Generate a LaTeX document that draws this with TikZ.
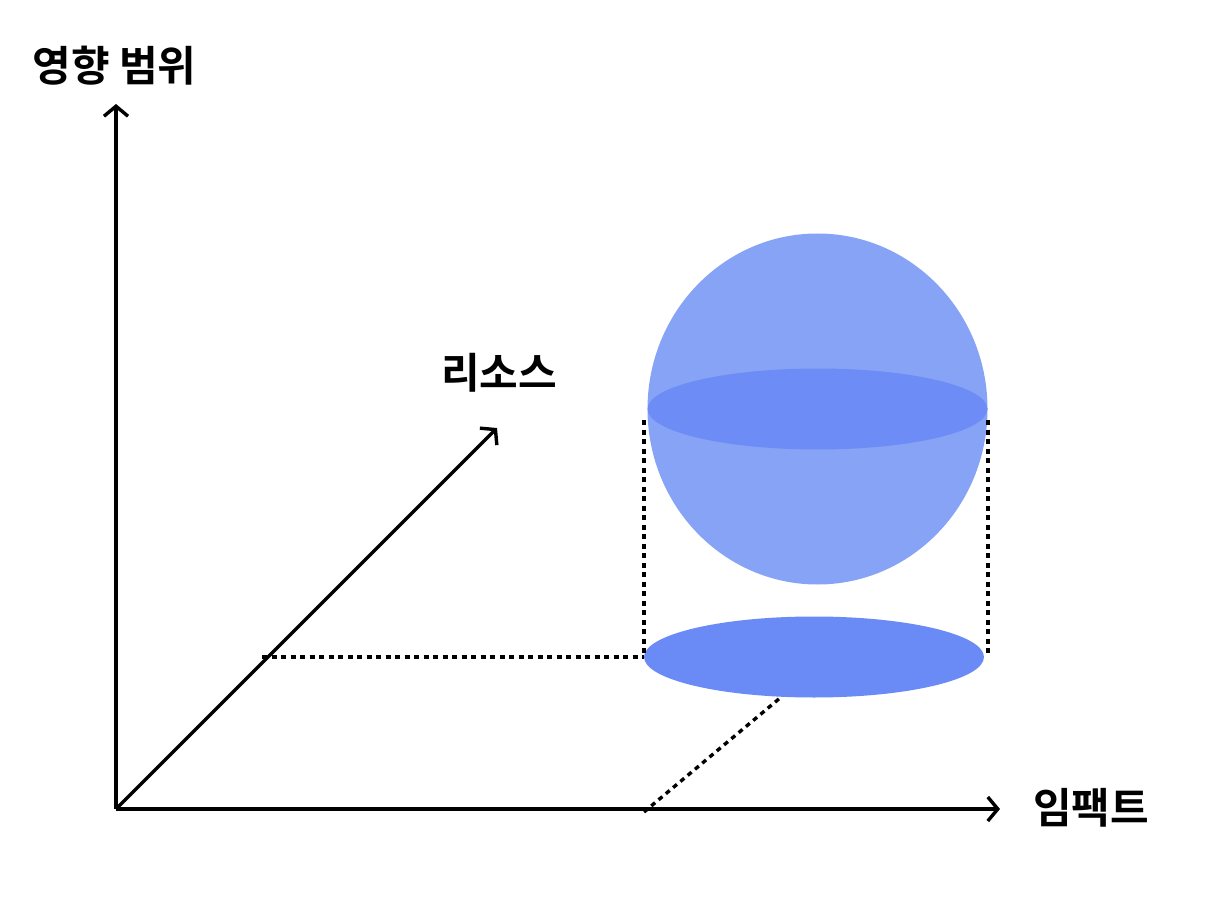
\documentclass[tikz,border=0pt]{standalone}
\usepackage{fontspec}
\newfontfamily\kr{Noto Sans CJK KR}[BoldFont={* Bold}]
\usetikzlibrary{arrows.meta,shapes.geometric}
\definecolor{sph}{HTML}{87A3F6}
\definecolor{eq}{HTML}{6D8CF6}
\definecolor{base}{HTML}{6A8BF6}
\tikzset{
  axis/.style={line width=3.4pt, -{Straight Barb[length=10pt,width=24pt,line width=3.4pt]}},
  guide/.style={line width=3.4pt, dash pattern=on 5pt off 4.5pt},
  lbl/.style={font=\kr\bfseries\fontsize{42}{46}\selectfont, inner sep=0pt}
}
\begin{document}
\begin{tikzpicture}[x=1pt,y=-1pt]
\useasboundingbox (0,0) rectangle (1232,912);
% shapes
\node[ellipse, fill=sph, minimum width=340pt, minimum height=351pt, inner sep=0pt] (sphere) at (817.5,409) {};
\node[ellipse, fill=eq, minimum width=340pt, minimum height=81pt, inner sep=0pt] (equator) at (817.5,409) {};
\node[ellipse, fill=base, minimum width=340pt, minimum height=81pt, inner sep=0pt] (disc) at (814,657) {};
% coordinates
\coordinate (O) at (116,809);
\coordinate (Ytip) at (116,104);
\coordinate (Xtip) at (1000,809);
\coordinate (Ztip) at (497,428);
\coordinate (gL) at (262,657);
\coordinate (dL) at (644,657);
\coordinate (dR) at (988,657);
\coordinate (tL) at (644,420);
\coordinate (tR) at (988,420);
\coordinate (xfoot) at (644,812);
\coordinate (dfoot) at (780,698);
% guides
\draw[guide] (gL) -- (dL);
\draw[guide] (tL) -- (dL);
\draw[guide] (tR) -- (dR);
\draw[guide] (xfoot) -- (dfoot);
% axes
\draw[axis] (O) -- (Ytip);
\draw[axis] (O) -- (Xtip);
\draw[axis] (O) -- (Ztip);
% labels
\node[lbl] (ylab) at (114.5,66) {영향 범위};
\node[lbl] (zlab) at (499,373) {리소스};
\node[lbl] (xlab) at (1091,808) {임팩트};
\end{tikzpicture}
\end{document}
